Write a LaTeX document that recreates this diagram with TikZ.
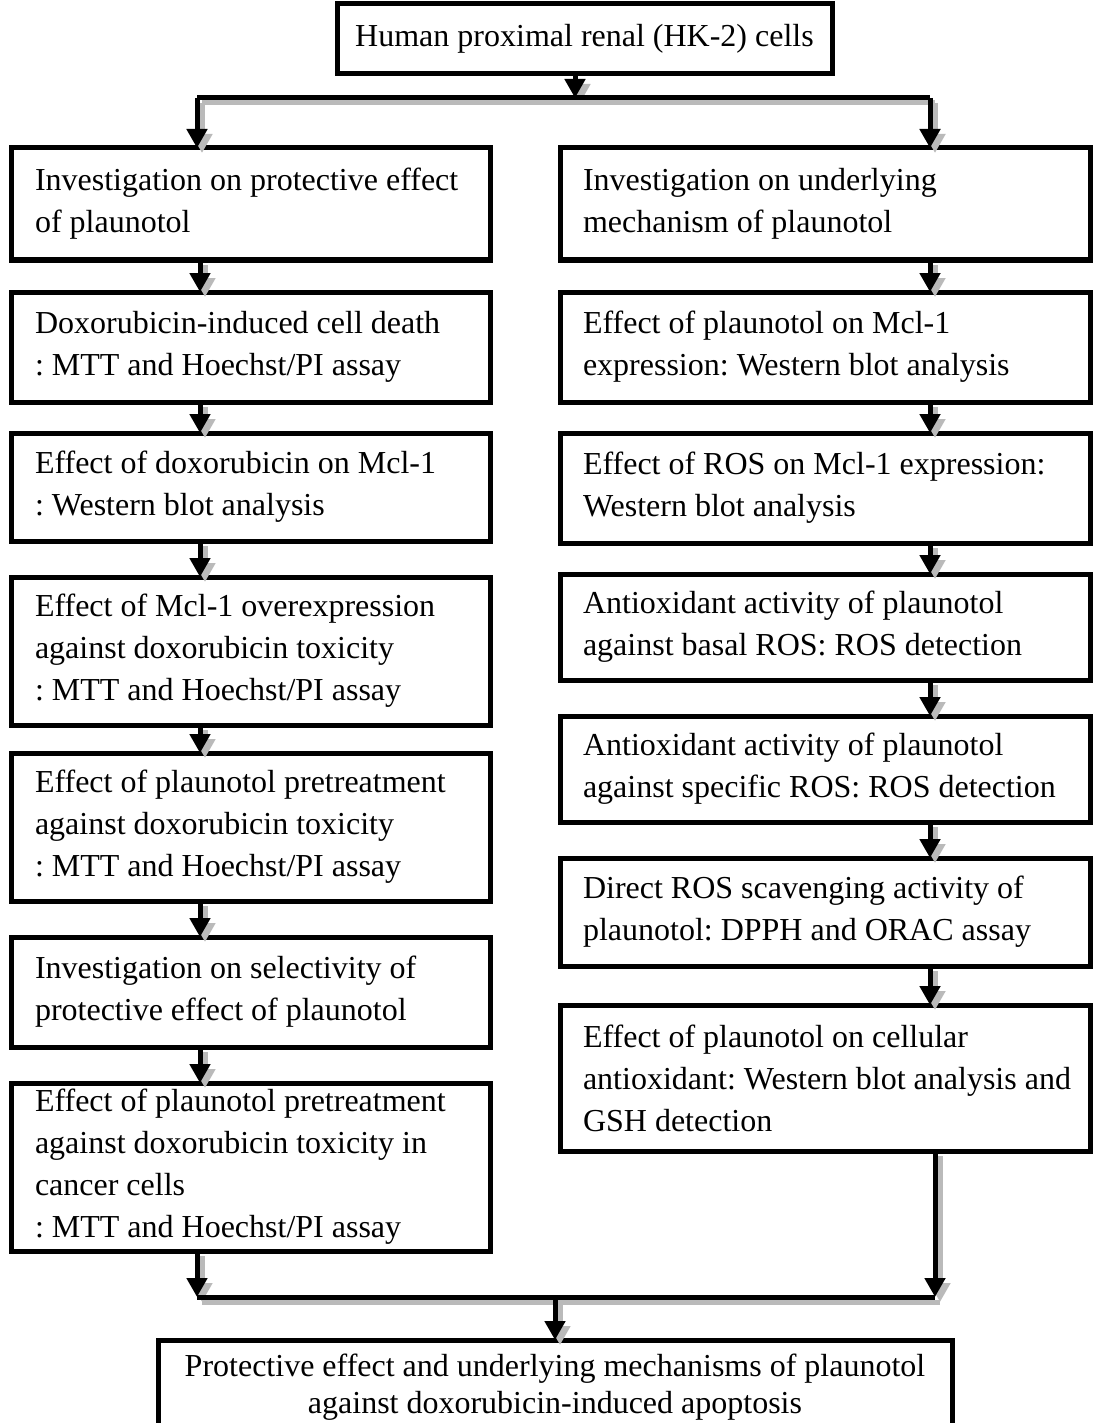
\documentclass[tikz,border=0pt]{standalone}
\usepackage{fontspec}
\setmainfont{Liberation Serif}
\usetikzlibrary{arrows.meta}
\begin{document}
\frenchspacing
\begin{tikzpicture}[x=1pt,y=-1pt,
  box/.style={draw, line width=5pt, rectangle, inner xsep=0pt, inner ysep=0pt, outer sep=0pt,
    font=\fontsize{32}{42}\selectfont\frenchspacing},
  lbox/.style={box, minimum width=479pt, text width=431pt, align=flush left},
  rbox/.style={box, minimum width=530pt, text width=484pt, align=flush left},
  cbox/.style={box, align=center},
  arr/.style={line width=5pt, -{Triangle[length=19pt,width=20pt]}},
  ln/.style={line width=5pt},
  shd/.style={line width=5pt, draw=black!27, transform canvas={shift={(5pt,-5pt)}}},
  shdarr/.style={shd, -{Triangle[length=19pt,width=20pt]}},
]
\useasboundingbox (0,0) rectangle (1092,1423);

% nodes
\node[cbox, minimum width=495pt, minimum height=70pt] (top) at (584.5,39) {Human proximal renal (HK-2) cells};

\node[lbox, minimum height=112pt] (L1) at (250.5,204) {Investigation on protective effect\\of plaunotol};
\node[lbox, minimum height=110pt] (L2) at (250.5,347) {Doxorubicin-induced cell death\\: MTT and Hoechst/PI assay};
\node[lbox, minimum height=108pt] (L3) at (250.5,487) {Effect of doxorubicin on Mcl-1\\: Western blot analysis};
\node[lbox, minimum height=148pt] (L4) at (250.5,651) {Effect of Mcl-1 overexpression\\against doxorubicin toxicity\\: MTT and Hoechst/PI assay};
\node[lbox, minimum height=148pt] (L5) at (250.5,827) {Effect of plaunotol pretreatment\\against doxorubicin toxicity\\: MTT and Hoechst/PI assay};
\node[lbox, minimum height=110pt] (L6) at (250.5,992) {Investigation on selectivity of\\protective effect of plaunotol};
\node[lbox, minimum height=168pt] (L7) at (250.5,1167) {Effect of plaunotol pretreatment\\against doxorubicin toxicity in\\cancer cells\\: MTT and Hoechst/PI assay};

\node[rbox, minimum height=112pt] (R1) at (825,204) {Investigation on underlying\\mechanism of plaunotol};
\node[rbox, minimum height=110pt] (R2) at (825,347) {Effect of plaunotol on Mcl-1\\expression: Western blot analysis};
\node[rbox, minimum height=110pt] (R3) at (825,488) {\mbox{Effect of ROS on Mcl-1 expression:}\\Western blot analysis};
\node[rbox, minimum height=106pt] (R4) at (825,627) {Antioxidant activity of plaunotol\\against basal ROS: ROS detection};
\node[rbox, minimum height=106pt] (R5) at (825,769) {Antioxidant activity of plaunotol\\\mbox{against specific ROS: ROS detection}};
\node[rbox, minimum height=108pt] (R6) at (825,912) {Direct ROS scavenging activity of\\plaunotol: DPPH and ORAC assay};
\node[rbox, minimum height=146pt] (R7) at (825,1078) {Effect of plaunotol on cellular\\\mbox{antioxidant: Western blot analysis and}\\GSH detection};

\node[cbox, font=\fontsize{32}{37}\selectfont\frenchspacing, anchor=north, minimum width=794pt, inner ysep=14pt] (B) at (555,1340) {Protective effect and underlying mechanisms of plaunotol\\against doxorubicin-induced apoptosis};

% helper coordinates
\coordinate (tl) at (197,98);
\coordinate (tm) at (575,98);
\coordinate (tr) at (930,98);
\coordinate (bl) at (197,1297);
\coordinate (bm) at (555,1297);
\coordinate (br) at (935,1297);
\coordinate (lx) at (200,0);
\coordinate (rx) at (930,0);

% shadows
\draw[shdarr] (top.south -| tm) -- (tm);
\draw[shd] (tl) -- (tr);
\draw[shdarr] (tl) -- (L1.north -| tl);
\draw[shdarr] (tr) -- (R1.north -| tr);
\foreach \a/\b in {L1/L2,L2/L3,L3/L4,L4/L5,L5/L6,L6/L7}{
  \draw[shdarr] (\a.south -| lx) -- (\b.north -| lx);
}
\foreach \a/\b in {R1/R2,R2/R3,R3/R4,R4/R5,R5/R6,R6/R7}{
  \draw[shdarr] (\a.south -| rx) -- (\b.north -| rx);
}
\draw[shdarr] (L7.south -| bl) -- (bl);
\draw[shdarr] (R7.south -| br) -- (br);
\draw[shd] (bl) -- (br);
\draw[shdarr] (bm) -- (B.north -| bm);

% connectors
\draw[arr] (top.south -| tm) -- (tm);
\draw[ln] (tl) -- (tr);
\draw[arr] (tl) -- (L1.north -| tl);
\draw[arr] (tr) -- (R1.north -| tr);
\foreach \a/\b in {L1/L2,L2/L3,L3/L4,L4/L5,L5/L6,L6/L7}{
  \draw[arr] (\a.south -| lx) -- (\b.north -| lx);
}
\foreach \a/\b in {R1/R2,R2/R3,R3/R4,R4/R5,R5/R6,R6/R7}{
  \draw[arr] (\a.south -| rx) -- (\b.north -| rx);
}
\draw[arr] (L7.south -| bl) -- (bl);
\draw[arr] (R7.south -| br) -- (br);
\draw[ln] (bl) -- (br);
\draw[arr] (bm) -- (B.north -| bm);
\end{tikzpicture}
\end{document}
